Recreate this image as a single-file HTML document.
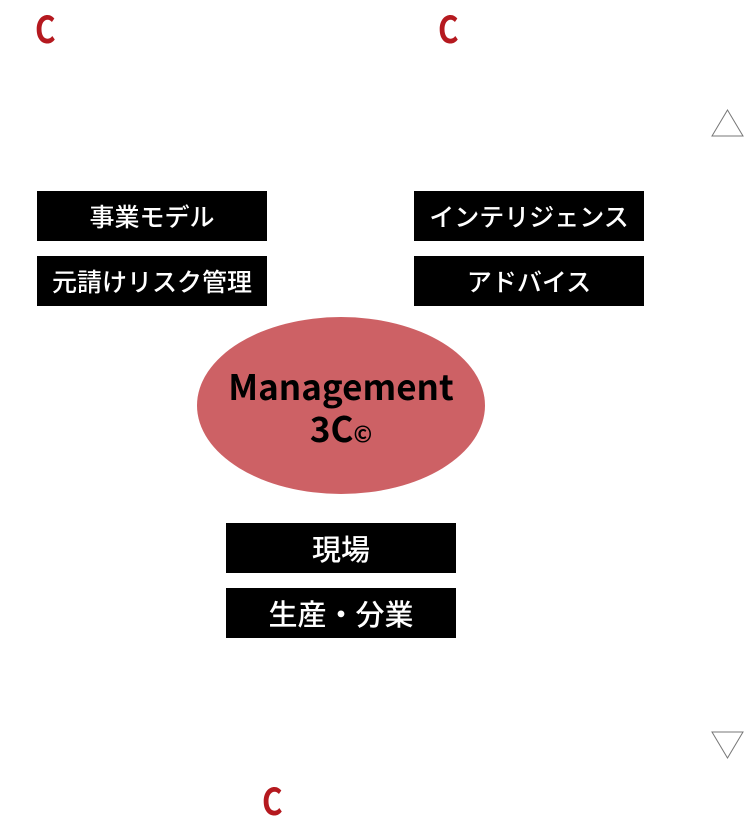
<!DOCTYPE html>
<html><head><meta charset="utf-8"><style>
body{margin:0;width:748px;height:823px;background:#fff;position:relative;overflow:hidden;font-family:"Liberation Sans","Noto Sans CJK JP",sans-serif}
.c{position:absolute;color:#b5191f;font-weight:bold;font-size:37px;line-height:37px;font-family:"Noto Sans CJK JP","Liberation Sans",sans-serif;transform:scaleX(0.85);transform-origin:left top}
.b{position:absolute;width:230px;height:50px;background:#000;color:#fff;font-size:25px;line-height:50px;text-align:center;font-family:"Noto Sans CJK JP",sans-serif;font-weight:500}
.b.l{font-size:29px}
</style></head><body>
<div class="c" style="left:35px;top:9px">C</div>
<div class="c" style="left:438px;top:9px">C</div>
<div class="c" style="left:262px;top:781px">C</div>
<div class="b" style="left:37px;top:191px">事業モデル</div>
<div class="b" style="left:37px;top:256px">元請けリスク管理</div>
<div class="b" style="left:414px;top:191px">インテリジェンス</div>
<div class="b" style="left:414px;top:256px">アドバイス</div>
<div class="b l" style="left:226px;top:523px">現場</div>
<div class="b l" style="left:226px;top:588px">生産・分業</div>
<svg width="748" height="823" style="position:absolute;left:0;top:0">
<ellipse cx="341" cy="405.5" rx="144" ry="88.5" fill="#cd6165"/>
<text x="341" y="400" text-anchor="middle" font-family="Noto Sans CJK JP,sans-serif" font-weight="bold" font-size="35" fill="#000">Management</text>
<text x="341" y="442" text-anchor="middle" font-family="Noto Sans CJK JP,sans-serif" font-weight="bold" font-size="35" fill="#000">3C<tspan font-size="22">©</tspan></text>
<polygon points="727.5,110 743,136 712,136" fill="none" stroke="#777" stroke-width="1"/>
<polygon points="712,732 743,732 727.5,758" fill="none" stroke="#777" stroke-width="1"/>
</svg>
</body></html>
